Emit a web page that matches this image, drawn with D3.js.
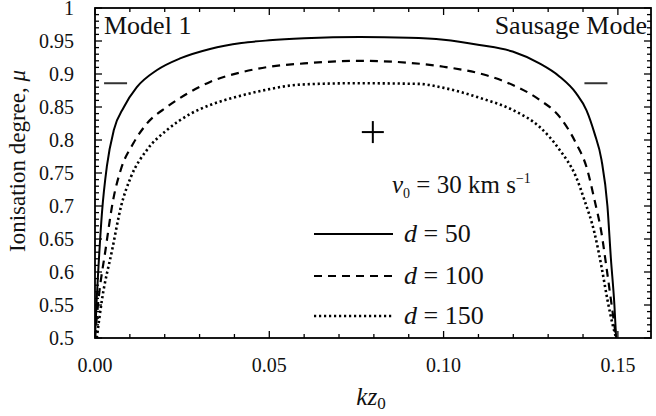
<!DOCTYPE html>
<html>
<head>
<meta charset="utf-8">
<script src="https://cdn.jsdelivr.net/npm/d3@7"></script>
<style>
body { margin: 0; background: #fff; }
text { font-family: "Liberation Serif", "DejaVu Serif", serif; fill: #111; }
</style>
</head>
<body>
<svg id="svg"></svg>
<script>
// d = 50 (solid)
var kz50 = [0, 0.0005, 0.001, 0.002, 0.0034, 0.0054, 0.0083, 0.012, 0.0178, 0.0246, 0.033, 0.042, 0.05, 0.06, 0.076, 0.09, 0.1, 0.1103, 0.1198, 0.1275, 0.1333, 0.138, 0.141, 0.1433, 0.1453, 0.147, 0.148, 0.149, 0.1495];
var mu50 = [0.5, 0.56, 0.608, 0.69, 0.76, 0.815, 0.85, 0.88, 0.906, 0.924, 0.938, 0.947, 0.951, 0.954, 0.956, 0.955, 0.952, 0.944, 0.934, 0.916, 0.896, 0.871, 0.845, 0.81, 0.77, 0.7, 0.62, 0.55, 0.5];
// d = 100 (dashed)
var kz100 = [0, 0.001, 0.003, 0.0052, 0.0074, 0.011, 0.0149, 0.0206, 0.0264, 0.033, 0.0415, 0.05, 0.06, 0.076, 0.09, 0.1, 0.1123, 0.12, 0.1275, 0.1333, 0.138, 0.141, 0.1433, 0.1453, 0.1467, 0.148, 0.1495];
var mu100 = [0.5, 0.558, 0.633, 0.709, 0.755, 0.795, 0.825, 0.85, 0.87, 0.888, 0.902, 0.911, 0.916, 0.92, 0.917, 0.911, 0.898, 0.883, 0.861, 0.835, 0.795, 0.759, 0.709, 0.659, 0.608, 0.558, 0.5];
// d = 150 (dotted)
var kz150 = [0.0005, 0.002, 0.0049, 0.0075, 0.0103, 0.0149, 0.0206, 0.0275, 0.033, 0.041, 0.049, 0.059, 0.075, 0.093, 0.1, 0.1103, 0.12, 0.1275, 0.1333, 0.138, 0.1404, 0.1433, 0.1453, 0.147, 0.1485, 0.1495];
var mu150 = [0.5, 0.558, 0.633, 0.7, 0.744, 0.785, 0.815, 0.84, 0.853, 0.866, 0.876, 0.884, 0.886, 0.885, 0.879, 0.864, 0.845, 0.82, 0.785, 0.744, 0.709, 0.659, 0.608, 0.558, 0.52, 0.5];

var seriesNames = ["d = 50", "d = 100", "d = 150"];
var xTickLabels = ["0.00", "0.05", "0.10", "0.15"];
var yTickLabels = ["0.5", "0.55", "0.6", "0.65", "0.7", "0.75", "0.8", "0.85", "0.9", "0.95", "1"];

// short horizontal markers and the cross
var barKz = [0.0059, 0.1437];
var barMu = 0.886;
var crossKz = 0.0797, crossMu = 0.812;

var width = 656, height = 416;
var pLeft = 95, pRight = 651, pTop = 8, pBottom = 338;

var svg = d3.select("#svg").attr("width", width).attr("height", height);

var x = d3.scaleLinear().domain([0, 0.1595]).range([pLeft, pRight]);
var y = d3.scaleLinear().domain([0.5, 1]).range([pBottom, pTop]);

var series = [
    {kz: kz50, mu: mu50, dash: null, w: 2},
    {kz: kz100, mu: mu100, dash: "8,6", w: 2.2},
    {kz: kz150, mu: mu150, dash: "2.2,2.8", w: 2.6}
];

// curves, clipped to frame
svg.append("clipPath").attr("id", "clip").append("rect")
    .attr("x", pLeft).attr("y", pTop).attr("width", pRight - pLeft).attr("height", pBottom - pTop);

var line = d3.line()
    .x(function(p) { return x(p[0]); })
    .y(function(p) { return y(p[1]); })
    .curve(d3.curveMonotoneX);

series.forEach(function(s) {
    var pts = s.kz.map(function(k, i) { return [k, s.mu[i]]; });
    svg.append("path")
        .attr("clip-path", "url(#clip)")
        .attr("d", line(pts))
        .attr("fill", "none")
        .attr("stroke", "#000")
        .attr("stroke-width", s.w)
        .attr("stroke-dasharray", s.dash);
});

// ticks (inward), on all four sides
var xMinor = d3.range(0, 0.1595, 0.01);
var yMinor = d3.range(0.5, 1.0001, 0.01);
function isMajor(v) { return Math.abs(v / 0.05 - Math.round(v / 0.05)) < 1e-6; }

var tk = svg.append("g").attr("stroke", "#000").attr("stroke-width", 1.3);
xMinor.forEach(function(v) {
    var L = isMajor(v) ? 7 : 4;
    tk.append("line").attr("x1", x(v)).attr("x2", x(v)).attr("y1", pBottom).attr("y2", pBottom - L);
    tk.append("line").attr("x1", x(v)).attr("x2", x(v)).attr("y1", pTop).attr("y2", pTop + L);
});
yMinor.forEach(function(v) {
    var L = isMajor(v) ? 7 : 4;
    tk.append("line").attr("y1", y(v)).attr("y2", y(v)).attr("x1", pLeft).attr("x2", pLeft + L);
    tk.append("line").attr("y1", y(v)).attr("y2", y(v)).attr("x1", pRight).attr("x2", pRight - L);
});

// frame
svg.append("rect")
    .attr("x", pLeft).attr("y", pTop).attr("width", pRight - pLeft).attr("height", pBottom - pTop)
    .attr("fill", "none").attr("stroke", "#000").attr("stroke-width", 1.8);

// tick labels
xTickLabels.forEach(function(t) {
    svg.append("text").attr("x", x(+t)).attr("y", pBottom + 34)
        .attr("text-anchor", "middle").attr("font-size", 20).text(t);
});
yTickLabels.forEach(function(t) {
    svg.append("text").attr("x", 74).attr("y", y(+t) + 7)
        .attr("text-anchor", "end").attr("font-size", 20).text(t);
});

// axis titles
svg.append("text")
    .attr("transform", "translate(25,161) rotate(-90)")
    .attr("text-anchor", "middle").attr("font-size", 23)
    .html('Ionisation degree, <tspan font-style="italic">μ</tspan>');

var xl = svg.append("text").attr("x", (pLeft + pRight) / 2 - 2).attr("y", 405)
    .attr("text-anchor", "middle").attr("font-size", 25);
xl.append("tspan").attr("font-style", "italic").text("kz");
xl.append("tspan").attr("font-size", 17).attr("dy", 4).text("0");

// corner labels
svg.append("text").attr("x", 104).attr("y", 34).attr("font-size", 26).text("Model 1");
svg.append("text").attr("x", pRight - 4).attr("y", 34).attr("text-anchor", "end")
    .attr("font-size", 26).text("Sausage Mode");

// markers
barKz.forEach(function(k) {
    svg.append("line")
        .attr("x1", x(k) - 11.5).attr("x2", x(k) + 11.5)
        .attr("y1", y(barMu)).attr("y2", y(barMu))
        .attr("stroke", "#333").attr("stroke-width", 2);
});
svg.append("line").attr("x1", x(crossKz) - 11).attr("x2", x(crossKz) + 11)
    .attr("y1", y(crossMu)).attr("y2", y(crossMu)).attr("stroke", "#000").attr("stroke-width", 2);
svg.append("line").attr("x1", x(crossKz)).attr("x2", x(crossKz))
    .attr("y1", y(crossMu) - 11).attr("y2", y(crossMu) + 11).attr("stroke", "#000").attr("stroke-width", 2);

// legend
var lg = svg.append("g");
var v0 = lg.append("text").attr("x", 392).attr("y", 193).attr("font-size", 25);
v0.append("tspan").attr("font-style", "italic").text("v");
v0.append("tspan").attr("font-size", 14).attr("dy", 5).text("0");
v0.append("tspan").attr("dy", -5).text(" = 30 km s");
v0.append("tspan").attr("font-size", 14).attr("dy", -10).text("−1");

var legY = [234, 276, 316];
series.forEach(function(s, i) {
    lg.append("line").attr("x1", 314).attr("x2", 393)
        .attr("y1", legY[i]).attr("y2", legY[i])
        .attr("stroke", "#000").attr("stroke-width", s.w).attr("stroke-dasharray", s.dash);
    var parts = seriesNames[i].split(" = ");
    var t = lg.append("text").attr("x", 404).attr("y", legY[i] + 8).attr("font-size", 26);
    t.append("tspan").attr("font-style", "italic").text(parts[0]);
    t.append("tspan").text(" = " + parts[1]);
});
</script>
</body>
</html>
